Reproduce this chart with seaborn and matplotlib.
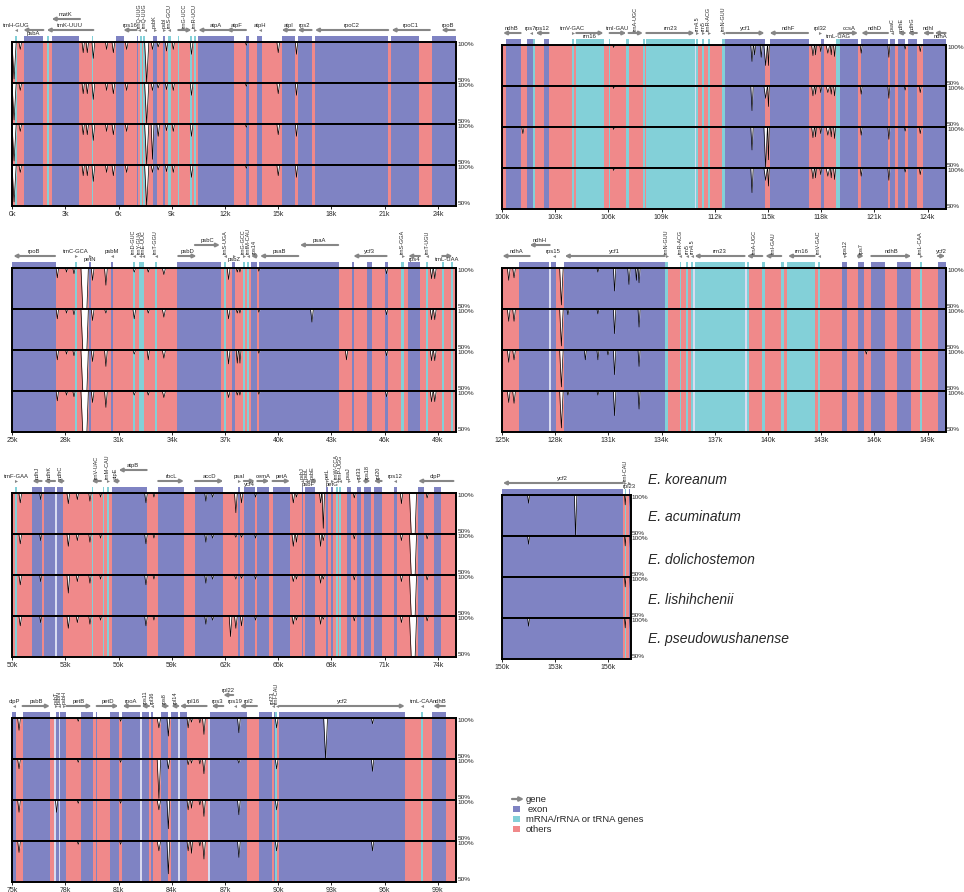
import numpy as np
import matplotlib
matplotlib.use('Agg')
import matplotlib.pyplot as plt
from matplotlib.patches import Rectangle
import seaborn as sns

sns.set_theme(style='white')
plt.rcParams['font.family'] = ['Liberation Sans', 'DejaVu Sans']

# ---- data (positions in kb) -------------------------------------------
species = ['E. koreanum', 'E. acuminatum', 'E. dolichostemon',
           'E. lishihchenii', 'E. pseudowushanense']

# coloured regions: (start, end, kind); everything else is "others"
A_regions = [(0.15, 0.24, 'rna'), (0.66, 1.75, 'exon'), (1.94, 2.05, 'rna'), (2.22, 3.78, 'exon'),
             (4.47, 4.57, 'rna'), (5.85, 6.30, 'exon'), (7.01, 7.11, 'exon'), (7.20, 7.29, 'rna'),
             (7.35, 7.47, 'rna'), (7.91, 8.14, 'exon'), (8.52, 8.61, 'exon'), (8.80, 8.93, 'rna'),
             (9.36, 9.42, 'rna'), (10.02, 10.11, 'rna'), (10.24, 10.36, 'rna'), (10.49, 12.50, 'exon'),
             (13.18, 13.36, 'exon'), (13.82, 14.10, 'exon'), (15.19, 15.94, 'exon'), (16.09, 16.88, 'exon'),
             (17.07, 21.20, 'exon'), (21.35, 22.95, 'exon'), (23.68, 25.05, 'exon')]
B_regions = [(25.0, 27.44, 'exon'), (28.53, 28.66, 'rna'), (29.34, 29.43, 'exon'), (30.56, 30.66, 'exon'),
             (31.79, 31.90, 'rna'), (32.16, 32.42, 'rna'), (33.05, 33.14, 'rna'), (34.27, 36.75, 'exon'),
             (36.94, 37.07, 'rna'), (37.41, 37.56, 'exon'), (37.99, 38.10, 'rna'), (38.23, 38.36, 'rna'),
             (38.46, 38.78, 'exon'), (38.91, 43.42, 'exon'), (44.14, 44.27, 'exon'), (45.02, 45.30, 'exon'),
             (46.02, 46.17, 'exon'), (46.95, 47.10, 'rna'), (47.33, 47.99, 'exon'), (48.33, 48.46, 'rna'),
             (49.25, 49.34, 'rna'), (49.72, 49.83, 'rna')]
C_regions = [(50.15, 50.28, 'rna'), (51.13, 51.65, 'exon'), (51.79, 52.41, 'exon'), (52.41, 52.50, 'gap'),
             (52.50, 52.88, 'exon'), (54.47, 54.57, 'rna'), (55.09, 55.17, 'rna'), (55.32, 55.45, 'rna'),
             (55.64, 57.58, 'exon'), (58.23, 59.68, 'exon'), (60.30, 61.90, 'exon'), (62.74, 62.84, 'exon'),
             (63.06, 63.68, 'exon'), (63.82, 64.49, 'exon'), (64.68, 65.66, 'exon'), (66.32, 66.41, 'exon'),
             (66.50, 67.07, 'exon'), (67.69, 67.82, 'exon'), (68.00, 68.10, 'exon'), (68.25, 68.35, 'rna'),
             (68.44, 68.53, 'rna'), (68.85, 69.08, 'exon'), (69.42, 69.66, 'exon'), (69.85, 70.21, 'exon'),
             (70.39, 70.83, 'exon'), (71.54, 71.67, 'exon'), (72.89, 73.21, 'exon'), (73.80, 74.17, 'exon')]
D_regions = [(75.0, 75.19, 'exon'), (75.58, 77.12, 'exon'), (77.37, 77.46, 'gap'), (77.46, 77.65, 'exon'),
             (77.65, 77.71, 'gap'), (77.71, 78.03, 'exon'), (78.87, 79.57, 'exon'), (79.72, 79.79, 'exon'),
             (80.51, 81.02, 'exon'), (81.18, 82.20, 'exon'), (82.20, 82.29, 'gap'), (82.29, 82.71, 'exon'),
             (82.82, 82.95, 'exon'), (83.36, 83.76, 'exon'), (83.97, 84.36, 'exon'), (84.36, 84.45, 'gap'),
             (84.45, 84.87, 'exon'), (86.06, 86.15, 'gap'), (86.15, 88.25, 'exon'), (88.91, 89.66, 'exon'),
             (89.75, 89.83, 'exon'), (89.83, 89.94, 'rna'), (90.06, 97.14, 'exon'), (98.03, 98.18, 'rna'),
             (98.68, 99.45, 'exon')]
E_regions = [(100.24, 101.05, 'exon'), (101.41, 101.75, 'exon'), (101.75, 101.84, 'rna'), (102.35, 102.63, 'exon'),
             (103.95, 104.04, 'rna'), (104.19, 105.73, 'rna'), (106.03, 106.11, 'rna'), (107.01, 107.14, 'rna'),
             (107.95, 108.08, 'rna'), (108.14, 110.86, 'rna'), (110.86, 110.95, 'gap'), (110.95, 111.05, 'rna'),
             (111.30, 111.39, 'rna'), (111.62, 111.71, 'rna'), (112.42, 112.56, 'rna'), (112.56, 114.81, 'exon'),
             (115.09, 117.31, 'exon'), (118.00, 118.14, 'exon'), (118.85, 119.04, 'rna'), (119.04, 120.08, 'exon'),
             (120.26, 121.77, 'exon'), (121.86, 122.14, 'exon'), (122.33, 122.71, 'exon'), (122.89, 123.40, 'exon'),
             (123.74, 125.05, 'exon')]
F_regions = [(125.96, 127.65, 'exon'), (127.65, 127.78, 'gap'), (127.78, 128.03, 'exon'), (128.50, 134.21, 'exon'),
             (134.21, 134.36, 'rna'), (135.02, 135.11, 'rna'), (135.39, 135.49, 'rna'), (135.68, 135.77, 'rna'),
             (135.77, 135.86, 'gap'), (135.86, 138.72, 'rna'), (138.72, 138.81, 'gap'), (138.81, 138.93, 'rna'),
             (139.68, 139.85, 'rna'), (140.75, 140.88, 'rna'), (141.07, 142.63, 'rna'), (142.82, 142.91, 'rna'),
             (144.19, 144.47, 'exon'), (145.08, 145.41, 'exon'), (145.83, 146.62, 'exon'), (147.29, 148.08, 'exon'),
             (148.55, 148.70, 'rna'), (149.59, 150.05, 'exon')]
G_regions = [(150.0, 156.82, 'exon'), (156.92, 157.01, 'rna'), (157.14, 157.24, 'exon')]

# genes: (name, start, end, strand, label placement)
A_genes = [('trnH-GUG', 0.15, 0.24, -1, 'mid'), ('psbA', 0.62, 1.75, -1, 'low'),
           ('matK', 2.22, 3.82, -1, 'top'), ('trnK-UUU', 1.94, 4.57, -1, 'mid'),
           ('rps16', 6.26, 7.01, -1, 'mid'), ('trnQ-UUG', 7.10, 7.20, -1, 'vert'),
           ('trnQ-UUG', 7.42, 7.54, -1, 'vert'), ('psbK', 7.91, 8.14, 1, 'vert'),
           ('psbI', 8.52, 8.61, 1, 'vert'), ('trnS-GCU', 8.80, 8.93, -1, 'vert'),
           ('trnG-UCC', 9.36, 10.11, 1, 'vert'), ('trnR-UCU', 10.24, 10.36, 1, 'vert'),
           ('atpA', 10.49, 12.46, -1, 'mid'), ('atpF', 12.09, 13.18, -1, 'mid'),
           ('atpH', 13.82, 14.10, -1, 'mid'), ('atpI', 15.19, 15.94, -1, 'mid'),
           ('rps2', 16.09, 16.88, -1, 'mid'), ('rpoC2', 17.07, 21.20, -1, 'mid'),
           ('rpoC1', 21.39, 23.55, -1, 'mid'), ('rpoB', 24.20, 24.96, -1, 'mid')]
B_genes = [('rpoB', 25.06, 27.41, -1, 'mid'), ('trnC-GCA', 28.53, 28.66, 1, 'mid'),
           ('petN', 29.34, 29.43, 1, 'low'), ('psbM', 30.56, 30.66, -1, 'mid'),
           ('trnD-GUC', 31.79, 31.90, -1, 'vert'), ('trnY-GUA', 32.12, 32.25, -1, 'vert'),
           ('trnE-UUC', 32.33, 32.46, -1, 'vert'), ('trnT-GGU', 33.05, 33.14, -1, 'vert'),
           ('psbD', 34.36, 35.39, 1, 'mid'), ('psbC', 35.30, 36.71, 1, 'top'),
           ('trnS-UGA', 36.94, 37.07, -1, 'vert'), ('psbZ', 37.41, 37.56, 1, 'low'),
           ('trnG-GCC', 37.99, 38.10, 1, 'vert'), ('trnfM-CAU', 38.23, 38.36, -1, 'vert'),
           ('rps14', 38.46, 38.78, -1, 'vert'), ('psaB', 38.97, 41.13, -1, 'mid'),
           ('psaA', 41.22, 43.38, -1, 'top'), ('ycf3', 44.23, 46.11, -1, 'mid'),
           ('trnS-GGA', 46.95, 47.10, 1, 'vert'), ('rps4', 47.33, 47.99, -1, 'low'),
           ('trnT-UGU', 48.33, 48.46, -1, 'vert'), ('trnL-UAA', 49.25, 49.83, 1, 'low')]
C_genes = [('trnF-GAA', 50.15, 50.28, 1, 'mid'), ('ndhJ', 51.13, 51.65, -1, 'vert'),
           ('ndhK', 51.79, 52.41, -1, 'vert'), ('ndhC', 52.50, 52.88, -1, 'vert'),
           ('trnV-UAC', 54.47, 55.00, -1, 'vert'), ('trnM-CAU', 55.32, 55.45, 1, 'vert'),
           ('atpE', 55.64, 56.00, -1, 'vert'), ('atpB', 56.00, 57.58, -1, 'top'),
           ('rbcL', 58.23, 59.68, 1, 'mid'), ('accD', 60.30, 61.90, 1, 'mid'),
           ('psaI', 62.74, 62.84, 1, 'mid'), ('ycf4', 63.06, 63.68, 1, 'low'),
           ('cemA', 63.82, 64.49, 1, 'mid'), ('petA', 64.68, 65.66, 1, 'mid'),
           ('psbJ', 66.32, 66.41, -1, 'vert'), ('psbL', 66.50, 66.60, -1, 'vert'),
           ('psbF', 66.62, 66.72, -1, 'low'), ('psbE', 66.75, 67.07, -1, 'vert'),
           ('petL', 67.69, 67.82, 1, 'vert'), ('petG', 68.00, 68.10, 1, 'low'),
           ('trnW-CCA', 68.25, 68.35, -1, 'vert'), ('trnP-UGG', 68.44, 68.53, -1, 'vert'),
           ('psaJ', 68.85, 69.08, 1, 'vert'), ('rpl33', 69.42, 69.66, 1, 'vert'),
           ('rps18', 69.85, 70.21, 1, 'vert'), ('rpl20', 70.39, 70.83, -1, 'vert'),
           ('rps12', 71.54, 71.67, -1, 'mid'), ('clpP', 72.89, 74.88, -1, 'mid')]
D_genes = [('clpP', 75.00, 75.19, -1, 'mid'), ('psbB', 75.58, 77.12, 1, 'mid'),
           ('psbT', 77.40, 77.49, 1, 'vert'), ('psbN', 77.60, 77.70, -1, 'vert'),
           ('psbH', 77.80, 78.03, 1, 'vert'), ('petB', 78.06, 79.47, 1, 'mid'),
           ('petD', 79.76, 80.98, 1, 'mid'), ('rpoA', 81.22, 82.20, -1, 'mid'),
           ('rps11', 82.29, 82.71, -1, 'vert'), ('rpl36', 82.82, 82.95, -1, 'vert'),
           ('rps8', 83.36, 83.76, -1, 'vert'), ('rpl14', 83.97, 84.36, -1, 'vert'),
           ('rpl16', 84.45, 85.96, -1, 'mid'), ('rps3', 86.24, 86.90, -1, 'mid'),
           ('rpl22', 86.90, 87.46, -1, 'top'), ('rps19', 87.46, 87.69, -1, 'mid'),
           ('rpl2', 87.84, 88.80, -1, 'mid'), ('rpl23', 89.62, 89.74, -1, 'vert'),
           ('trnI-CAU', 89.86, 89.97, -1, 'vert'), ('ycf2', 90.06, 97.14, 1, 'mid'),
           ('trnL-CAA', 98.03, 98.18, -1, 'mid'), ('ndhB', 98.74, 99.40, -1, 'mid')]
E_genes = [('ndhB', 100.06, 101.05, -1, 'mid'), ('rps7', 101.47, 101.75, -1, 'mid'),
           ('rps12', 101.90, 102.63, -1, 'mid'), ('trnV-GAC', 103.95, 104.04, 1, 'mid'),
           ('rrn16', 104.19, 105.73, 1, 'low'), ('trnI-GAU', 106.07, 107.01, 1, 'mid'),
           ('trnA-UGC', 107.14, 107.95, 1, 'vert'), ('rrn23', 108.14, 110.86, 1, 'mid'),
           ('rrn4.5', 110.95, 111.05, 1, 'vert'), ('rrn5', 111.30, 111.39, 1, 'vert'),
           ('trnR-ACG', 111.62, 111.71, 1, 'vert'), ('trnN-GUU', 112.42, 112.56, -1, 'vert'),
           ('ycf1', 112.65, 114.81, 1, 'mid'), ('ndhF', 115.09, 117.26, -1, 'mid'),
           ('rpl32', 117.85, 117.98, 1, 'mid'), ('trnL-UAG', 118.85, 119.04, -1, 'low'),
           ('ccsA', 119.04, 120.08, 1, 'mid'), ('ndhD', 120.26, 121.77, -1, 'mid'),
           ('psaC', 121.86, 122.14, -1, 'vert'), ('ndhE', 122.33, 122.71, -1, 'vert'),
           ('ndhG', 122.89, 123.40, -1, 'vert'), ('ndhI', 123.74, 124.30, -1, 'mid'),
           ('ndhA', 124.40, 125.02, -1, 'low')]
F_genes = [('ndhA', 125.02, 126.56, -1, 'mid'), ('ndhH', 126.56, 127.69, -1, 'top'),
           ('rps15', 127.78, 128.03, -1, 'mid'), ('ycf1', 128.54, 134.18, -1, 'mid'),
           ('trnN-GUU', 134.21, 134.36, 1, 'vert'), ('trnR-ACG', 135.02, 135.11, -1, 'vert'),
           ('rrn5', 135.39, 135.49, -1, 'vert'), ('rrn4.5', 135.68, 135.77, -1, 'vert'),
           ('rrn23', 135.86, 138.68, -1, 'mid'), ('trnA-UGC', 138.81, 139.68, -1, 'vert'),
           ('trnI-GAU', 139.85, 140.75, -1, 'vert'), ('rrn16', 141.13, 142.63, -1, 'mid'),
           ('trnV-GAC', 142.82, 142.91, -1, 'vert'), ('rps12', 144.19, 144.47, 1, 'vert'),
           ('rps7', 145.08, 145.41, 1, 'vert'), ('ndhB', 145.83, 148.08, 1, 'mid'),
           ('trnL-CAA', 148.55, 148.70, 1, 'vert'), ('ycf2', 149.59, 150.00, 1, 'mid')]
G_genes = [('ycf2', 150.05, 156.82, -1, 'mid'), ('trnI-CAU', 156.92, 157.01, 1, 'vert'),
           ('rpl23', 157.14, 157.24, 1, 'low')]

# identity dips: (position, half width, lowest % for each of the 4 comparisons)
A_dips = [(0.10, 0.12, [55, 55, 55, 55]), (0.45, 0.08, [91, 91, 91, 91]),
          (4.00, 0.07, [87, 87, 87, 87]), (4.23, 0.07, [87, 87, 87, 87]),
          (4.57, 0.08, [80, 80, 80, 80]), (5.32, 0.07, [91, 91, 91, 91]),
          (5.70, 0.08, [87, 87, 87, 87]), (6.45, 0.08, [91, 91, 91, 91]),
          (7.58, 0.12, [50, 50, 50, 50]), (7.91, 0.08, [91, 91, 57, 91]),
          (8.23, 0.08, [94, 94, 85, 94]), (8.70, 0.07, [89, 92, 92, 92]),
          (9.08, 0.07, [91, 91, 91, 91]), (10.11, 0.08, [85, 85, 85, 85]),
          (13.20, 0.06, [96, 96, 96, 96]), (15.00, 0.08, [87, 87, 87, 87]),
          (16.03, 0.07, [85, 85, 85, 85])]
B_dips = [(27.54, 0.07, [88, 88, 88, 88]), (28.06, 0.06, [95, 95, 95, 95]),
          (28.48, 0.07, [93, 93, 93, 93]), (29.08, 0.21, [50, 50, 50, 50]),
          (29.53, 0.08, [85, 86, 86, 86]), (30.28, 0.08, [79, 95, 80, 80]),
          (31.88, 0.08, [95, 88, 95, 95]), (32.67, 0.07, [95, 95, 88, 95]),
          (33.55, 0.09, [92, 90, 90, 92]), (37.20, 0.08, [86, 88, 83, 92]),
          (37.69, 0.06, [95, 95, 84, 95]), (37.84, 0.06, [95, 95, 84, 95]),
          (38.91, 0.06, [96, 96, 96, 96]), (41.90, 0.08, [100, 84, 100, 100]),
          (43.85, 0.07, [100, 100, 88, 100]), (46.11, 0.07, [93, 93, 93, 93]),
          (48.65, 0.08, [87, 87, 87, 87]), (48.83, 0.08, [87, 87, 87, 87])]
C_dips = [(50.45, 0.08, [88, 88, 88, 88]), (51.60, 0.06, [92, 92, 92, 92]),
          (53.16, 0.08, [87, 85, 78, 85]), (53.67, 0.07, [92, 92, 92, 92]),
          (54.38, 0.07, [90, 90, 90, 90]), (54.98, 0.06, [95, 95, 95, 95]),
          (57.54, 0.08, [88, 88, 88, 88]), (57.99, 0.06, [95, 95, 95, 95]),
          (60.92, 0.07, [90, 90, 90, 90]), (61.30, 0.07, [95, 95, 95, 95]),
          (62.31, 0.08, [100, 100, 100, 75]), (62.61, 0.08, [76, 96, 95, 85]),
          (62.93, 0.07, [88, 96, 96, 88]), (63.72, 0.06, [95, 95, 95, 95]),
          (65.85, 0.08, [88, 85, 92, 90]), (66.03, 0.06, [95, 90, 95, 95]),
          (67.39, 0.07, [88, 85, 90, 90]), (67.54, 0.07, [57, 92, 95, 96]),
          (69.29, 0.06, [94, 94, 94, 94]), (71.95, 0.07, [87, 92, 92, 92]),
          (72.60, 0.20, [50, 50, 50, 50]), (73.40, 0.07, [94, 94, 94, 94])]
D_dips = [(75.38, 0.08, [85, 88, 85, 86]), (77.50, 0.07, [100, 100, 85, 100]),
          (78.72, 0.06, [96, 96, 96, 96]), (81.11, 0.06, [96, 96, 96, 96]),
          (83.27, 0.10, [88, 52, 88, 88]), (83.80, 0.08, [78, 88, 65, 60]),
          (84.92, 0.07, [88, 93, 88, 88]), (85.11, 0.06, [95, 95, 90, 85]),
          (85.58, 0.06, [94, 94, 94, 94]), (85.81, 0.08, [80, 82, 80, 78]),
          (87.78, 0.08, [82, 95, 82, 80]), (89.91, 0.08, [88, 88, 88, 88]),
          (92.67, 0.11, [50, 100, 100, 100]), (95.32, 0.07, [93, 85, 100, 88])]
E_dips = [(101.18, 0.07, [100, 100, 92, 100]), (106.30, 0.05, [97, 97, 97, 97]),
          (114.10, 0.07, [80, 70, 72, 70]), (114.25, 0.06, [88, 100, 100, 100]),
          (114.62, 0.06, [85, 100, 100, 100]), (114.87, 0.10, [75, 85, 50, 85]),
          (115.03, 0.05, [75, 75, 60, 78]), (117.54, 0.08, [87, 88, 87, 87]),
          (117.69, 0.05, [88, 90, 88, 88]), (117.98, 0.06, [92, 92, 92, 92]),
          (118.38, 0.10, [90, 92, 90, 90]), (118.57, 0.05, [88, 90, 88, 88]),
          (118.76, 0.06, [86, 88, 86, 86]), (120.26, 0.06, [90, 90, 90, 90]),
          (121.82, 0.06, [85, 85, 85, 85]), (122.74, 0.05, [95, 95, 95, 95]),
          (123.59, 0.06, [92, 92, 92, 92])]
F_dips = [(125.38, 0.08, [85, 85, 85, 86]), (125.68, 0.08, [88, 85, 88, 85]),
          (128.35, 0.10, [55, 55, 55, 55]), (128.72, 0.06, [100, 93, 100, 95]),
          (129.70, 0.06, [100, 100, 88, 100]), (130.41, 0.06, [95, 94, 88, 95]),
          (130.98, 0.06, [100, 100, 94, 100]), (131.35, 0.07, [72, 70, 70, 70]),
          (132.16, 0.07, [80, 100, 100, 100]), (132.58, 0.05, [85, 100, 100, 100]),
          (132.73, 0.06, [82, 78, 80, 78]), (145.55, 0.06, [100, 100, 95, 100])]
G_dips = [(151.50, 0.06, [90, 90, 100, 90]), (154.15, 0.07, [50, 100, 100, 100]),
          (156.95, 0.04, [88, 88, 88, 88]), (157.24, 0.03, [85, 85, 85, 85])]

# ---- style -------------------------------------------------------------
COLORS = {'exon': '#7f83c3', 'rna': '#83d0d8', 'others': '#f0898a', 'gap': '#d9dbf0'}
ARROW = '#868686'
W, H = 964, 892
PX_PER_KB = 17.73
TRACK_H = 41

fig = plt.figure(figsize=(W / 100, H / 100), dpi=100)


def px_axes(x, y, w, h):
    return fig.add_axes([x / W, 1 - (y + h) / H, w / W, h / H])


def identity_points(dips, k, x0, x1):
    xs, ys = [x0], [100]
    for pos, w, depth in sorted(dips):
        d = depth[k]
        if d >= 100:
            continue
        if w > 0.15:
            xs += [pos - w, pos - 0.5 * w, pos + 0.6 * w, pos + w]
            ys += [100, d, d, 100]
        else:
            xs += [pos - w, pos, pos + w]
            ys += [100, d, 100]
    xs.append(x1)
    ys.append(100)
    return np.array(xs), np.array(ys)


def draw_panel(start, end, left, top, regions, genes, dips):
    width = (end - start) * PX_PER_KB

    # gene strip above the tracks
    sax = px_axes(left, top - 42, width, 42)
    sax.set_xlim(start, end)
    sax.set_ylim(42, 0)
    sax.axis('off')
    for s, e, kind in regions:
        if kind in ('exon', 'rna'):
            sax.add_patch(Rectangle((s, 36), e - s, 5.5, color=COLORS[kind], lw=0))
    for name, s, e, strand, place in genes:
        y = 19 if place == 'top' else 30
        mid = (s + e) / 2
        if e - s >= 0.3:
            tail, head = (s, e) if strand > 0 else (e, s)
            sax.annotate('', xy=(head, y), xytext=(tail, y),
                         arrowprops=dict(arrowstyle='-|>', color=ARROW, lw=1.5,
                                         mutation_scale=5, shrinkA=0, shrinkB=0))
        else:
            sax.plot(mid, y, marker='>' if strand > 0 else '<', ms=2.2,
                     color=ARROW, mew=0)
        if place == 'vert':
            sax.text(mid, y - 2, name, rotation=90, ha='center', va='bottom', fontsize=4.0)
        elif place == 'low':
            sax.text(mid, y + 1.2, name, ha='center', va='top', fontsize=4.2)
        else:
            sax.text(mid, y - 1.8, name, ha='center', va='bottom', fontsize=4.2)

    # four identity tracks
    for k in range(4):
        ax = px_axes(left, top + k * TRACK_H, width, TRACK_H)
        ax.set_facecolor(COLORS['others'])
        for s, e, kind in regions:
            ax.axvspan(s, e, color=COLORS[kind], lw=0)
        xs, ys = identity_points(dips, k, start, end)
        ax.fill_between(xs, ys, 100, color='white', lw=0)
        sns.lineplot(x=xs, y=ys, ax=ax, color='black', lw=0.5,
                     estimator=None, sort=False)
        ax.set_xlim(start, end)
        ax.set_ylim(50, 100)
        ax.set_yticks([])
        ax.set_xlabel('')
        ax.set_ylabel('')
        for sp in ax.spines.values():
            sp.set_linewidth(1.4)
            sp.set_color('black')
        ax.text(1.003, 0.99, '100%', transform=ax.transAxes, fontsize=4.6, va='top', ha='left')
        ax.text(1.003, 0.0, '50%', transform=ax.transAxes, fontsize=4.6, va='bottom', ha='left')
        if k == 3:
            ticks = np.arange(start, end, 3)
            ax.set_xticks(ticks)
            ax.set_xticklabels([f'{int(t)}k' for t in ticks])
            ax.tick_params(axis='x', bottom=True, direction='out', length=2.5,
                           width=0.6, labelsize=5, pad=1, color='black')
        else:
            ax.set_xticks([])


panels = [
    (0, 25.03, 12.3, 42, A_regions, A_genes, A_dips),
    (100, 125.03, 502, 45, E_regions, E_genes, E_dips),
    (25, 50.03, 12.3, 268, B_regions, B_genes, B_dips),
    (125, 150.03, 502, 268, F_regions, F_genes, F_dips),
    (50, 75.03, 12.3, 493, C_regions, C_genes, C_dips),
    (150, 157.29, 502, 495, G_regions, G_genes, G_dips),
    (75, 100.03, 12.3, 718, D_regions, D_genes, D_dips),
]
for p in panels:
    draw_panel(*p)

# species names
for name, y in zip(species, [480, 517, 560, 600, 639]):
    fig.text(648 / W, 1 - y / H, name, style='italic', fontsize=10, va='center', ha='left')

# legend
lax = px_axes(505, 792, 170, 45)
lax.set_xlim(0, 170)
lax.set_ylim(45, 0)
lax.axis('off')
lax.annotate('', xy=(19, 7), xytext=(7, 7),
             arrowprops=dict(arrowstyle='-|>', color=ARROW, lw=1.6, mutation_scale=6,
                             shrinkA=0, shrinkB=0))
lax.text(21, 7, 'gene', fontsize=6.8, va='center')
for i, (kind, label) in enumerate([('exon', 'exon'), ('rna', 'mRNA/rRNA or tRNA genes'),
                                   ('others', 'others')]):
    y = 17 + i * 10
    lax.add_patch(Rectangle((8, y - 3.3), 6.5, 6.6, color=COLORS[kind], lw=0))
    lax.text(21 if i else 23, y, label, fontsize=6.8, va='center')

fig.savefig('out.png', dpi=100)
